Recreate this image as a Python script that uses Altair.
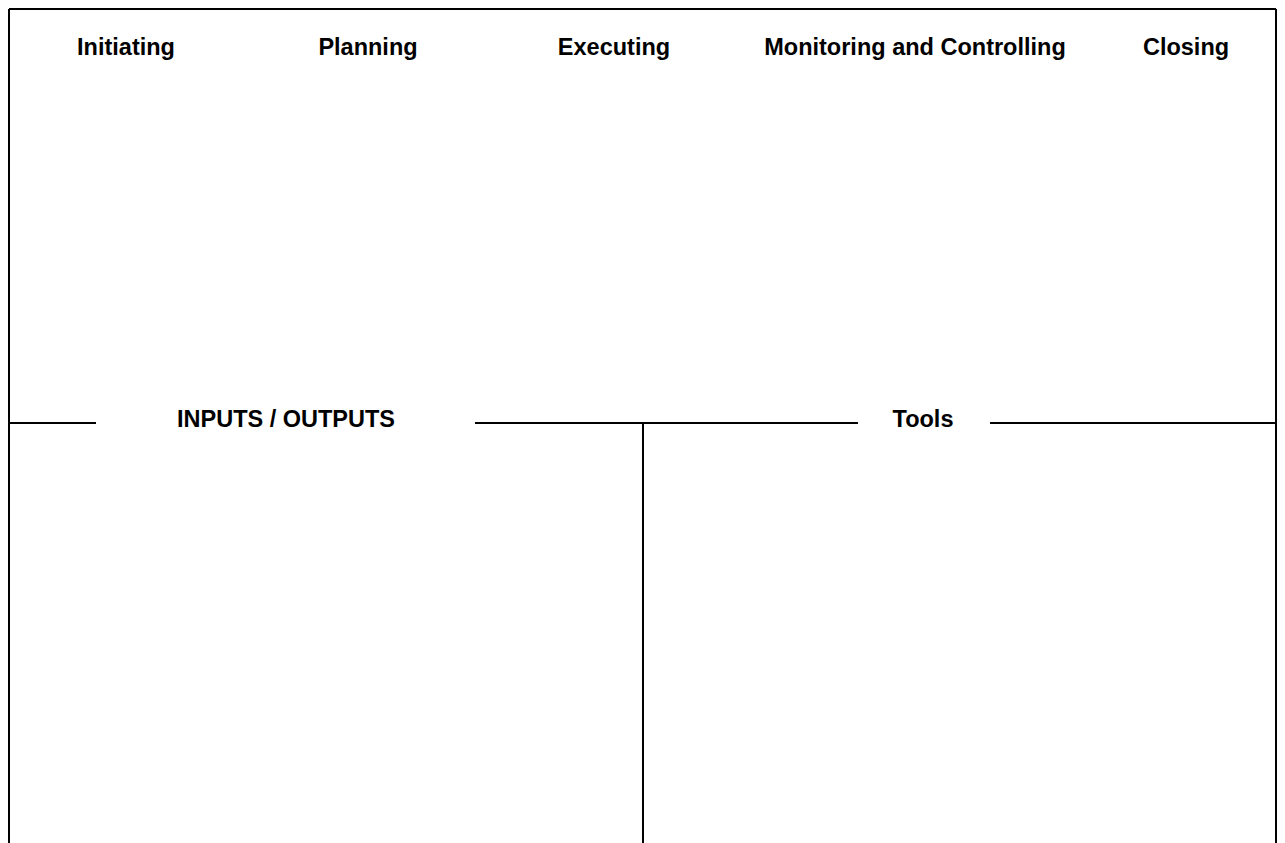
import altair as alt
import pandas as pd

# Page-space layout (pixels)
header_labels = ["Initiating", "Planning", "Executing", "Monitoring and Controlling", "Closing"]
header_x = [126, 368, 614, 915, 1186]
header_y = [55, 55, 55, 55, 55]

section_labels = ["INPUTS / OUTPUTS", "Tools"]
section_x = [286, 923]
section_y = [427, 427]

# frame and divider segments
seg_x1 = [9, 9, 1276, 9, 475, 990, 643]
seg_x2 = [1276, 9, 1276, 96, 858, 1276, 643]
seg_y1 = [9, 9, 9, 423, 423, 423, 423]
seg_y2 = [9, 843, 843, 423, 423, 423, 843]

segs = pd.DataFrame({"x": seg_x1, "x2": seg_x2, "y": seg_y1, "y2": seg_y2})
labels = pd.DataFrame({
    "text": header_labels + section_labels,
    "x": header_x + section_x,
    "y": header_y + section_y,
})

xs = alt.Scale(domain=[8, 1277], nice=False, zero=False)
ys = alt.Scale(domain=[8, 843], nice=False, zero=False, reverse=True)

rules = alt.Chart(segs).mark_rule(color="black", strokeWidth=2, clip=False).encode(
    x=alt.X("x:Q", scale=xs, axis=None),
    x2="x2:Q",
    y=alt.Y("y:Q", scale=ys, axis=None),
    y2="y2:Q",
)

texts = alt.Chart(labels).mark_text(
    font="Liberation Sans", fontSize=23.5, fontWeight="bold", color="black",
    align="center", baseline="alphabetic",
).encode(
    x=alt.X("x:Q", scale=xs, axis=None),
    y=alt.Y("y:Q", scale=ys, axis=None),
    text="text:N",
)

chart = alt.layer(rules, texts).properties(
    width=1269, height=835, padding=0,
    autosize=alt.AutoSizeParams(type="none"),
).configure_view(stroke=None)

chart.save("out.html", embed_options={"renderer": "svg", "actions": False})
